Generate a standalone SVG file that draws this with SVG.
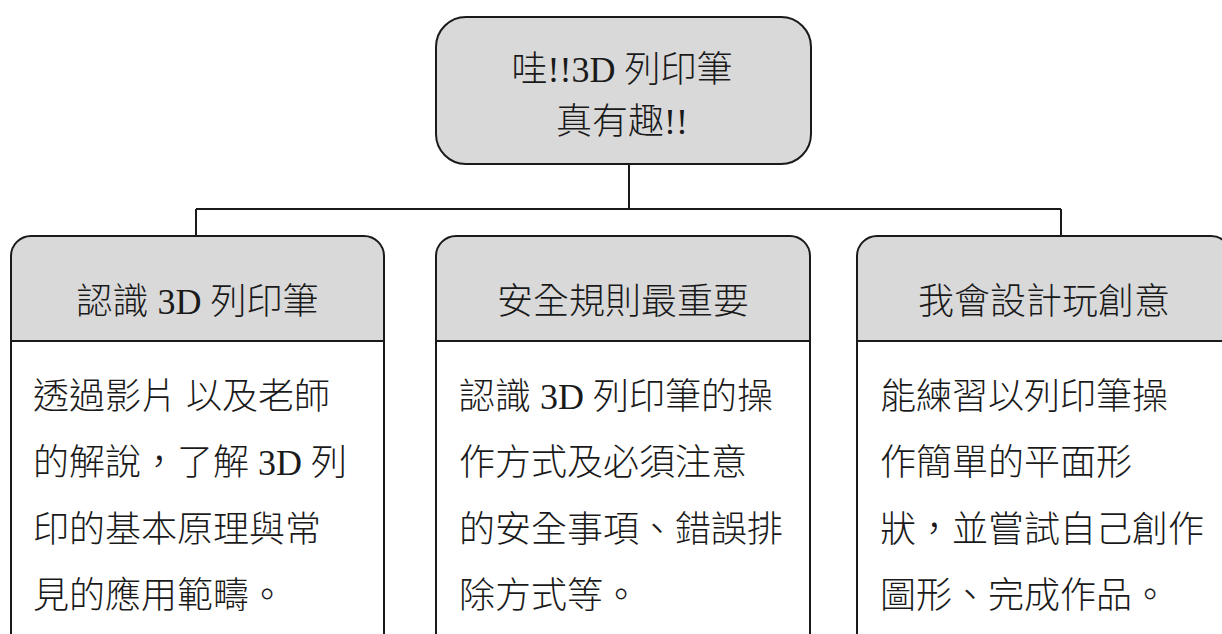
<svg xmlns="http://www.w3.org/2000/svg" width="1222" height="634" viewBox="0 0 1222 634">
<style>
.hdr{fill:#d9d9d9;stroke:#1a1a1a;stroke-width:2}
.body{fill:#ffffff;stroke:#1a1a1a;stroke-width:2}
.t{font-family:"Liberation Serif","Noto Sans CJK TC",serif;font-size:36px;font-weight:300;fill:#1a1a1a}
.c{text-anchor:middle}
.conn{fill:none;stroke:#1a1a1a;stroke-width:2}
</style>
<rect width="1222" height="634" fill="#ffffff"/>
<g id="connectors">
<path class="conn" d="M629 164 V209 M196 209 H1061 M196 209 V236 M1061 209 V236"/>
</g>
<g id="root">
<rect class="hdr" x="436" y="17" width="375" height="147" rx="30" ry="30"/>
<text class="t c" x="622" y="82">哇!!3D 列印筆</text>
<text class="t c" x="622" y="134">真有趣!!</text>
</g>
<g id="node1">
<rect class="body" x="11" y="341" width="373" height="310"/>
<path class="hdr" d="M11 341 V256 A20 20 0 0 1 31 236 H364 A20 20 0 0 1 384 256 V341 Z"/>
<text class="t c" x="197.5" y="314">認識 3D 列印筆</text>
<text class="t" x="33" y="408.5">透過影片 以及老師</text>
<text class="t" x="33" y="475">的解說，了解 3D 列</text>
<text class="t" x="33" y="541.5">印的基本原理與常</text>
<text class="t" x="33" y="608">見的應用範疇。</text>
</g>
<g id="node2">
<rect class="body" x="436" y="341" width="374" height="310"/>
<path class="hdr" d="M436 341 V256 A20 20 0 0 1 456 236 H790 A20 20 0 0 1 810 256 V341 Z"/>
<text class="t c" x="623" y="314">安全規則最重要</text>
<text class="t" x="459" y="408.5">認識 3D 列印筆的操</text>
<text class="t" x="459" y="475">作方式及必須注意</text>
<text class="t" x="459" y="541.5">的安全事項、錯誤排</text>
<text class="t" x="459" y="608">除方式等。</text>
</g>
<g id="node3">
<rect class="body" x="857" y="341" width="374" height="310"/>
<path class="hdr" d="M857 341 V256 A20 20 0 0 1 877 236 H1211 A20 20 0 0 1 1231 256 V341 Z"/>
<text class="t c" x="1044" y="314">我會設計玩創意</text>
<text class="t" x="880" y="408.5">能練習以列印筆操</text>
<text class="t" x="880" y="475">作簡單的平面形</text>
<text class="t" x="880" y="541.5">狀，並嘗試自己創作</text>
<text class="t" x="880" y="608">圖形、完成作品。</text>
</g>
</svg>
